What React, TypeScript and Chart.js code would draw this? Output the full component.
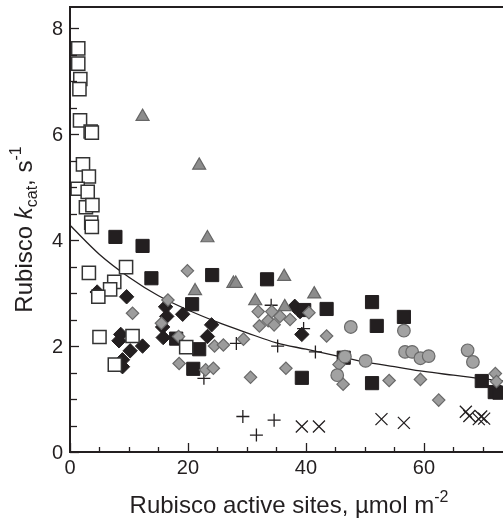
import React, { useEffect, useRef } from "react";
import { Chart, registerables } from "chart.js";
Chart.register(...registerables);

type P = [number, number];

const openSquares: P[] = [
  [1.4, 7.62], [1.4, 7.33], [1.75, 7.04], [1.6, 6.85], [1.7, 6.26], [3.5, 6.05], [3.7, 6.03],
  [2.2, 5.43], [3.2, 5.2], [1.3, 4.97], [3.0, 4.91], [2.7, 4.62], [3.8, 4.66], [3.6, 4.33],
  [3.7, 4.25], [3.2, 3.38], [9.5, 3.49], [7.5, 3.21], [6.8, 3.07], [4.8, 2.93], [5.0, 2.17],
  [10.6, 2.19], [7.6, 1.65], [19.7, 1.98],
];
const grayCircles: P[] = [
  [47.6, 2.36], [56.6, 2.29], [46.6, 1.8], [45.3, 1.45], [50.1, 1.72], [56.8, 1.89],
  [58.0, 1.89], [59.4, 1.77], [60.8, 1.81], [67.4, 1.92], [68.3, 1.7],
];
const grayDiamonds: P[] = [
  [19.9, 3.42], [10.6, 2.62], [16.6, 2.87], [15.5, 2.43], [18.4, 2.18], [18.5, 1.67],
  [24.5, 2.0], [26.0, 2.02], [23.0, 1.55], [24.3, 1.58], [29.4, 2.13], [30.6, 1.41],
  [31.9, 2.65], [32.1, 2.38], [33.6, 2.48], [34.2, 2.65], [34.6, 2.4], [35.6, 2.56],
  [37.3, 2.5], [40.5, 2.63], [36.6, 1.58], [43.5, 2.19], [45.6, 1.65], [46.3, 1.28],
  [54.1, 1.35], [59.4, 1.37], [62.5, 0.98], [72.1, 1.48], [72.3, 1.33],
];
const grayTriangles: P[] = [
  [12.3, 6.33], [21.9, 5.41], [23.3, 4.04], [21.2, 3.04], [27.7, 3.18], [28.1, 3.18],
  [36.3, 3.31], [41.4, 2.98], [31.4, 2.85], [36.4, 2.74],
];
const blackSquares: P[] = [
  [7.7, 4.06], [12.3, 3.89], [13.8, 3.28], [24.1, 3.34], [20.7, 2.79], [18.0, 2.14],
  [21.9, 1.94], [20.9, 1.57], [33.4, 3.26], [43.5, 2.7], [51.2, 2.83], [52.0, 2.38],
  [39.3, 1.4], [51.2, 1.3], [39.7, 2.68], [56.6, 2.55], [69.8, 1.34], [72.0, 1.13],
  [72.8, 1.12], [46.4, 1.78],
];
const blackDiamonds: P[] = [
  [4.6, 3.02], [9.6, 2.93], [8.6, 2.22], [8.3, 2.1], [10.2, 1.91], [12.3, 2.0], [8.9, 1.74],
  [8.9, 1.61], [16.2, 2.74], [16.4, 2.56], [15.8, 2.16], [19.1, 2.6], [15.7, 2.36],
  [24.0, 2.4], [23.3, 2.18], [38.1, 2.75], [39.0, 2.65], [39.3, 2.22],
];
const plusPoints: P[] = [
  [28.2, 2.05], [22.7, 1.39], [29.3, 0.67], [31.6, 0.32], [34.6, 0.6], [35.2, 2.0],
  [41.6, 1.89], [34.1, 2.77], [39.6, 2.33],
];
const crossPoints: P[] = [
  [39.3, 0.48], [42.2, 0.48], [52.8, 0.62], [56.6, 0.55], [67.1, 0.76], [67.7, 0.68],
  [69.7, 0.67], [70.2, 0.63], [69.3, 0.62],
];
const fitCurve: P[] = [
  [0, 4.28], [5, 3.73], [10, 3.3], [15, 2.95], [20, 2.68], [25, 2.45], [30, 2.25],
  [35, 2.06], [40, 1.94], [45, 1.82], [50, 1.7], [55, 1.61], [60, 1.52], [65, 1.45],
  [70, 1.38], [73.4, 1.34],
];

const xTickLabels = [0, 20, 40, 60];
const yTickLabels = [0, 2, 4, 6, 8];
const xMinorStep = 5;
const yMinorStep = 0.5;

const FONT = "'Liberation Sans', Arial, sans-serif";
const INK = "#231f20";

const toXY = (arr: P[]) => arr.map(([x, y]) => ({ x, y }));

const axesPlugin = {
  id: "axesPlugin",
  afterDraw(chart: any) {
    const { ctx, chartArea: a, scales } = chart;
    const xs = scales.x;
    const ys = scales.y;
    ctx.save();
    ctx.strokeStyle = INK;
    ctx.fillStyle = INK;
    // frame
    ctx.lineWidth = 2;
    ctx.beginPath();
    ctx.moveTo(a.right + 2, a.top);
    ctx.lineTo(a.left, a.top);
    ctx.lineTo(a.left, a.bottom);
    ctx.lineTo(a.right + 2, a.bottom);
    ctx.stroke();
    // y ticks
    ctx.lineWidth = 1.3;
    for (let v = 0; v <= ys.max + 1e-9; v += yMinorStep) {
      const py = Math.round(ys.getPixelForValue(v)) + 0.5;
      const major = Math.abs(v % 2) < 1e-9;
      ctx.beginPath();
      ctx.moveTo(a.left, py);
      ctx.lineTo(a.left + (major ? 9 : 7), py);
      ctx.stroke();
    }
    for (let v = 0; v <= xs.max + 1e-9; v += xMinorStep) {
      const px = Math.round(xs.getPixelForValue(v)) + 0.5;
      const major = Math.abs(v % 20) < 1e-9;
      ctx.beginPath();
      ctx.moveTo(px, a.bottom);
      ctx.lineTo(px, a.bottom - (major ? 9 : 5));
      ctx.stroke();
    }
    // tick labels
    ctx.font = `20px ${FONT}`;
    ctx.textAlign = "right";
    ctx.textBaseline = "middle";
    yTickLabels.forEach((v) => {
      ctx.fillText(String(v), a.left - 7, ys.getPixelForValue(v) + 1);
    });
    ctx.textAlign = "center";
    ctx.textBaseline = "top";
    xTickLabels.forEach((v) => {
      ctx.fillText(String(v), xs.getPixelForValue(v), a.bottom + 6);
    });
    // x title
    const big = `24px ${FONT}`;
    const small = `16px ${FONT}`;
    ctx.textBaseline = "alphabetic";
    ctx.textAlign = "left";
    const xMain = "Rubisco active sites, µmol m";
    const xSup = "-2";
    ctx.font = big;
    const w1 = ctx.measureText(xMain).width;
    ctx.font = small;
    const w2 = ctx.measureText(xSup).width;
    const cx = 289;
    let sx = cx - (w1 + w2) / 2;
    ctx.font = big;
    ctx.fillText(xMain, sx, 513);
    ctx.font = small;
    ctx.fillText(xSup, sx + w1, 502);
    // y title (rotated)
    ctx.save();
    ctx.translate(32, (a.top + a.bottom) / 2);
    ctx.rotate(-Math.PI / 2);
    const parts: { t: string; f: string; dy: number }[] = [
      { t: "Rubisco ", f: big, dy: 0 },
      { t: "k", f: `italic 24px ${FONT}`, dy: 0 },
      { t: "cat", f: small, dy: 5 },
      { t: ", s", f: big, dy: 0 },
      { t: "-1", f: small, dy: -11 },
    ];
    let total = 0;
    parts.forEach((p) => {
      ctx.font = p.f;
      total += ctx.measureText(p.t).width;
    });
    let px = -total / 2;
    parts.forEach((p) => {
      ctx.font = p.f;
      ctx.fillText(p.t, px, p.dy);
      px += ctx.measureText(p.t).width;
    });
    ctx.restore();
    ctx.restore();
  },
};

export default function App() {
  const ref = useRef<HTMLCanvasElement | null>(null);
  useEffect(() => {
    if (!ref.current) return;
    const scatterBase = { type: "scatter" as const, showLine: false, clip: false as any };
    const chart = new Chart(ref.current, {
      type: "scatter",
      data: {
        datasets: [
          {
            ...scatterBase,
            data: toXY(openSquares),
            pointStyle: "rect",
            pointRadius: 9.3,
            backgroundColor: "#ffffff",
            borderColor: "#333333",
            borderWidth: 1.5,
          },
          {
            ...scatterBase,
            data: toXY(grayCircles),
            pointStyle: "circle",
            pointRadius: 6.3,
            backgroundColor: "#a2a2a2",
            borderColor: "#6a6a6a",
            borderWidth: 1.2,
          },
          {
            ...scatterBase,
            data: toXY(grayDiamonds),
            pointStyle: "rectRot",
            pointRadius: 6.2,
            backgroundColor: "#9c9c9c",
            borderColor: "#6a6a6a",
            borderWidth: 1.2,
          },
          {
            ...scatterBase,
            data: toXY(grayTriangles),
            pointStyle: "triangle",
            pointRadius: 7.5,
            backgroundColor: "#8c8c8c",
            borderColor: "#666666",
            borderWidth: 1.2,
          },
          {
            ...scatterBase,
            data: toXY(blackSquares),
            pointStyle: "rect",
            pointRadius: 9.3,
            backgroundColor: INK,
            borderColor: INK,
            borderWidth: 1,
          },
          {
            ...scatterBase,
            data: toXY(blackDiamonds),
            pointStyle: "rectRot",
            pointRadius: 7.2,
            backgroundColor: INK,
            borderColor: INK,
            borderWidth: 1,
          },
          {
            ...scatterBase,
            data: toXY(plusPoints),
            pointStyle: "cross",
            pointRadius: 6.5,
            backgroundColor: INK,
            borderColor: INK,
            borderWidth: 1.3,
          },
          {
            ...scatterBase,
            data: toXY(crossPoints),
            pointStyle: "crossRot",
            pointRadius: 8.5,
            backgroundColor: INK,
            borderColor: INK,
            borderWidth: 1.3,
          },
          {
            type: "line" as any,
            data: toXY(fitCurve),
            showLine: true,
            pointRadius: 0,
            borderColor: INK,
            borderWidth: 1.3,
            tension: 0.4,
            cubicInterpolationMode: "monotone",
            fill: false,
          } as any,
        ],
      },
      options: {
        animation: false,
        responsive: true,
        maintainAspectRatio: false,
        layout: { autoPadding: false, padding: { left: 70, top: 7, right: 0, bottom: 69 } },
        plugins: { legend: { display: false }, tooltip: { enabled: false }, title: { display: false } },
        events: [],
        scales: {
          x: { type: "linear", min: 0, max: 73.4, display: false },
          y: { type: "linear", min: 0, max: 8.4, display: false },
        },
      },
      plugins: [axesPlugin],
    });
    return () => chart.destroy();
  }, []);
  return (
    <div style={{ position: "absolute", left: 0, top: 0, width: 503, height: 521, background: "#fff" }}>
      <canvas ref={ref} />
    </div>
  );
}
